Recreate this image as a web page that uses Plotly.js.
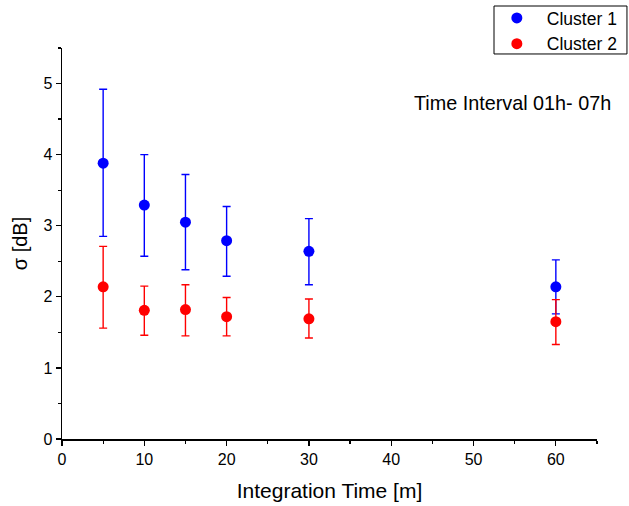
<!DOCTYPE html>
<html>
<head>
<meta charset="utf-8">
<script src="https://cdn.plot.ly/plotly-3.0.1.min.js"></script>
<style>html,body{margin:0;padding:0;background:#fff;}#chart{width:629px;height:506px;}</style>
</head>
<body>
<div id="chart"></div>
<script>
const integrationTime = [5, 10, 15, 20, 30, 60];

const cluster1Mean  = [3.88, 3.29, 3.05, 2.79, 2.64, 2.14];
const cluster1Upper = [4.92, 4.00, 3.72, 3.27, 3.10, 2.52];
const cluster1Lower = [2.85, 2.57, 2.38, 2.29, 2.17, 1.76];

const cluster2Mean  = [2.14, 1.81, 1.82, 1.72, 1.69, 1.65];
const cluster2Upper = [2.71, 2.15, 2.17, 1.99, 1.97, 1.96];
const cluster2Lower = [1.56, 1.46, 1.45, 1.45, 1.42, 1.33];

const seriesNames = ["Cluster 1", "Cluster 2"];
const seriesColors = ["#0000ff", "#ff0000"];

const fontFam = "Arial, 'Liberation Sans', sans-serif";

function mkTrace(name, color, mean, up, lo) {
  return {
    type: "scatter", mode: "markers", name: name,
    x: integrationTime, y: mean,
    marker: {color: color, size: 11},
    error_y: {
      type: "data", symmetric: false,
      array: mean.map((m, i) => up[i] - m),
      arrayminus: mean.map((m, i) => m - lo[i]),
      color: color, thickness: 1.4, width: 4
    }
  };
}

const data = [
  mkTrace(seriesNames[0], seriesColors[0], cluster1Mean, cluster1Upper, cluster1Lower),
  mkTrace(seriesNames[1], seriesColors[1], cluster2Mean, cluster2Upper, cluster2Lower)
];

const axisCommon = {
  showgrid: false, zeroline: false, showline: true, linecolor: "#000", linewidth: 1.5,
  ticks: "outside", ticklen: 5, tickwidth: 1.3, tickcolor: "#000",
  tickfont: {family: fontFam, size: 16, color: "#000"},
  minor: {ticks: "outside", ticklen: 3, tickwidth: 1.3, tickcolor: "#000"}
};

const layout = {
  width: 629, height: 506,
  margin: {l: 62, r: 32, t: 48, b: 67, autoexpand: false},
  paper_bgcolor: "#fff", plot_bgcolor: "#fff",
  font: {family: fontFam, color: "#000"},
  showlegend: true,
  legend: {
    xref: "container", yref: "container",
    x: 0.774, xanchor: "left", y: 1.0, yanchor: "top",
    borderwidth: 0, bgcolor: "rgba(0,0,0,0)",
    font: {family: fontFam, size: 17.5, color: "#000"},
    tracegroupgap: 0, itemwidth: 50
  },
  xaxis: Object.assign({}, axisCommon, {
    range: [0, 65], dtick: 10, tick0: 0,
    minor: Object.assign({}, axisCommon.minor, {dtick: 5, tick0: 0}),
    title: {text: "Integration Time [m]", font: {family: fontFam, size: 21, color: "#000"}, standoff: 16}
  }),
  yaxis: Object.assign({}, axisCommon, {
    range: [0, 5.5], dtick: 1, tick0: 0,
    minor: Object.assign({}, axisCommon.minor, {dtick: 0.5, tick0: 0}),
    title: {text: "σ [dB]", font: {family: fontFam, size: 20, color: "#000"}, standoff: 10}
  }),
  shapes: [{
    type: "rect", xref: "paper", yref: "paper",
    x0: 0.8075, x1: 1.056, y0: 0.9847, y1: 1.1074,
    line: {color: "#000", width: 1}, fillcolor: "rgba(0,0,0,0)", layer: "above"
  }],
  annotations: [{
    text: "Time Interval 01h- 07h", xref: "paper", yref: "paper",
    x: 1.03, y: 0.859, xanchor: "right", yanchor: "middle", showarrow: false,
    font: {family: fontFam, size: 19.8, color: "#000"}
  }]
};

Plotly.newPlot("chart", data, layout, {displayModeBar: false, staticPlot: true});
</script>
</body>
</html>
